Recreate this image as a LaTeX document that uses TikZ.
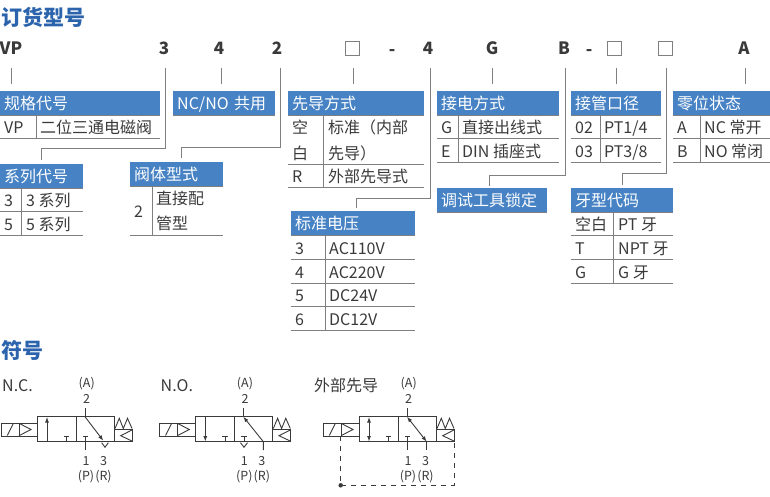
\documentclass[tikz,border=0pt]{standalone}
\usepackage{fontspec}
\setmainfont{Noto Sans CJK SC}
\usetikzlibrary{positioning,arrows.meta}
\definecolor{headblue}{HTML}{4682C4}
\definecolor{titleblue}{HTML}{2B63AC}
\definecolor{inkgray}{HTML}{3A3A3A}
\definecolor{rulegray}{HTML}{7F7F7F}
\tikzstyle{title}=[anchor=base west,inner sep=0,text=titleblue,font=\fontsize{21}{21}\selectfont\bfseries]
\tikzstyle{code}=[inner sep=0,minimum height=40pt,text=inkgray,font=\fontsize{17}{17}\selectfont\bfseries]
\tikzstyle{blank}=[draw=rulegray,line width=0.8pt,inner sep=0,minimum size=14pt]
\tikzstyle{head}=[anchor=north west,fill=headblue,text=white,inner xsep=4pt,inner ysep=0,minimum height=24pt,text height=14pt,text depth=2pt,align=left,font=\fontsize{16}{16}\selectfont,
	append after command={(\tikzlastnode.south west) edge[rule] (\tikzlastnode.south east)}]
\tikzstyle{cell}=[anchor=base west,inner sep=0,text=inkgray,font=\fontsize{16}{16}\selectfont]
\tikzstyle{rule}=[draw=rulegray,line width=1pt]
\tikzstyle{leader}=[draw=rulegray,line width=1pt,shorten >=7pt]
\tikzstyle{sym}=[draw=inkgray,line width=0.9pt,>={Latex[length=5.5pt,width=4pt]}]
\tikzstyle{port}=[inner sep=0,text=inkgray,font=\fontsize{12.5}{12.5}\selectfont]
\tikzstyle{dot}=[circle,fill=inkgray,inner sep=0,minimum size=4.5pt]

\newcommand{\valvebase}[1]{
	\draw[sym] (1.3,423) rectangle (37.3,436);
	\draw[sym] (19,423) -- (19,436);
	\draw[sym] (7.3,435.5) -- (13.3,423.5);
	\draw[sym] (19,423.3) -- (31,429.5) -- (19,435.7);
	\draw[sym] (37.3,416.7) rectangle (114.3,441.7);
	\draw[sym] (76,416.7) -- (76,441.7);
	\draw[sym] (66.7,441.7) -- (66.7,436.7) (64,436.7) -- (69.4,436.7);
	\draw[sym] (85,408) -- (85,416.7);
	\draw[sym] (115,428.5) -- (119.3,418.3) -- (123.3,428.5) -- (127.5,418.3) -- (132,428.5);
	\draw[sym] (114.3,429.3) rectangle (132.3,441.7);
	\draw[sym] (132.3,429.8) -- (120.7,435.7) -- (132.3,441.2);
	\node (#1A) [port] at (86.7,384) {(A)};
	\node (#1two) [port] at (86.7,399.3) {2};
	\node (#1one) [port] at (86,461) {1};
	\node (#1three) [port] at (103.5,461) {3};
	\node (#1P) [port] at (86,476.7) {(P)};
	\node (#1R) [port] at (103.5,476.7) {(R)};
}

\begin{document}
\begin{tikzpicture}[x=1pt,y=-1pt]
	\useasboundingbox (0,0) rectangle (770,496);

	\node (title1) [title] at (1,25) {订货型号};
	\node (title2) [title] at (1,358) {符号};

	\node (cVP) [code] at (11,48) {VP};
	\node (c3) [code] at (164,48) {3};
	\node (c4) [code] at (219,48) {4};
	\node (c2) [code] at (277,48) {2};
	\node (s1) [blank] at (352,48) {};
	\node (d1) [code] at (392,53) {-};
	\node (cV) [code] at (428,48) {4};
	\node (cG) [code] at (492,48) {G};
	\node (cB) [code] at (564,48) {B};
	\node (d2) [code] at (589,53) {-};
	\node (s2) [blank] at (614,48) {};
	\node (s3) [blank] at (665,48) {};
	\node (cA) [code] at (744,48) {A};

	\node (hSpec) [head,text width=152pt] at (0,91) {规格代号};
	\node (hShare) [head,text width=94pt] at (173,91) {NC/NO 共用};
	\node (hPilot) [head,text width=128pt] at (288,91) {先导方式};
	\node (hWire) [head,text width=114pt] at (437,91) {接电方式};
	\node (hPort) [head,text width=82pt] at (571,91) {接管口径};
	\node (hZero) [head,text width=89pt] at (673,91) {零位状态};
	\node (hSeries) [head,text width=75pt] at (0,164) {系列代号};
	\node (hBody) [head,text width=85pt] at (130,162) {阀体型式};
	\node (hLock) [head,text width=102pt] at (437,188) {调试工具锁定};
	\node (hThread) [head,text width=94pt] at (571,188) {牙型代码};
	\node (hVolt) [head,text width=116pt] at (291,211) {标准电压};

	\draw[leader] (cVP.south) -- (cVP.south |- hSpec.north);
	\draw[leader] ([xshift=2pt]c4.south) -- ([xshift=2pt]c4.south |- hShare.north);
	\draw[leader] ([shift={(1pt,-13pt)}]s1.south) -- ([xshift=1pt]s1.south |- hPilot.north);
	\draw[leader] (cG.south) -- (cG.south |- hWire.north);
	\draw[leader] ([shift={(2pt,-13pt)}]s2.south) -- ([xshift=2pt]s2.south |- hPort.north);
	\draw[leader] ([xshift=1pt]cA.south) -- ([xshift=1pt]cA.south |- hZero.north);
	\draw[leader,shorten >=4pt] ([xshift=1pt]c3.south) -- ++(0,80) -| (hSeries.north);
	\draw[leader,shorten >=4pt] ([xshift=3pt]c2.south) -- ++(0,79) -| ([xshift=4.5pt]hBody.north);
	\draw[leader,shorten >=3pt] ([xshift=2pt]cV.south) -- ++(0,130) -| ([xshift=3pt]hVolt.north);
	\draw[leader,shorten >=2pt] ([xshift=1pt]cB.south) -- ++(0,107) -| ([xshift=-3pt]hLock.north);
	\draw[leader,shorten >=3pt] ([shift={(1pt,-13pt)}]s3.south) -- ++(0,105) -| (hThread.north);

	\draw[rule] (0,138) -- (160,138);
	\draw[rule] (36,115) -- (36,138);
	\node (a1) [cell] at (4,133) {VP};
	\node (a2) [cell] at (40,133) {二位三通电磁阀};

	\draw[rule] (0,211) -- (83,211) (0,235) -- (83,235);
	\draw[rule] (21.5,188) -- (21.5,235);
	\node (b1) [cell] at (4,206) {3};
	\node (b2) [cell] at (26,206) {3 系列};
	\node (b3) [cell] at (4,230) {5};
	\node (b4) [cell] at (26,230) {5 系列};

	\draw[rule] (130,235) -- (223,235);
	\draw[rule] (152,186) -- (152,235);
	\node (e1) [cell] at (134,217) {2};
	\node (e2) [cell] at (156,204.5) {直接配};
	\node (e3) [cell] at (156,229) {管型};

	\draw[rule] (288,164) -- (424,164) (288,187) -- (424,187);
	\draw[rule] (323,115) -- (323,187);
	\node (f1) [cell] at (292,133) {空};
	\node (f2) [cell] at (292,159) {白};
	\node (f3) [cell] at (328,133) {标准（内部};
	\node (f4) [cell] at (328,159) {先导）};
	\node (f5) [cell] at (292,182) {R};
	\node (f6) [cell] at (328,182) {外部先导式};

	\draw[rule] (291,259) -- (415,259) (291,283) -- (415,283) (291,306) -- (415,306) (291,330) -- (415,330);
	\draw[rule] (325,235) -- (325,330);
	\node (g1) [cell] at (295,254) {3};
	\node (g2) [cell] at (329,254) {AC110V};
	\node (g3) [cell] at (295,278) {4};
	\node (g4) [cell] at (329,278) {AC220V};
	\node (g5) [cell] at (295,301) {5};
	\node (g6) [cell] at (329,301) {DC24V};
	\node (g7) [cell] at (295,325) {6};
	\node (g8) [cell] at (329,325) {DC12V};

	\draw[rule] (437,138) -- (559,138) (437,162) -- (559,162);
	\draw[rule] (458,115) -- (458,162);
	\node (w1) [cell] at (441,133) {G};
	\node (w2) [cell] at (462,133) {直接出线式};
	\node (w3) [cell] at (441,157) {E};
	\node (w4) [cell] at (462,157) {DIN 插座式};

	\draw[rule] (571,138) -- (661,138) (571,162) -- (661,162);
	\draw[rule] (600,115) -- (600,162);
	\node (p1) [cell] at (575,133) {02};
	\node (p2) [cell] at (604,133) {PT1/4};
	\node (p3) [cell] at (575,157) {03};
	\node (p4) [cell] at (604,157) {PT3/8};

	\draw[rule] (673,138) -- (770,138) (673,162) -- (770,162);
	\draw[rule] (700,115) -- (700,162);
	\node (z1) [cell] at (677,133) {A};
	\node (z2) [cell] at (704,133) {NC 常开};
	\node (z3) [cell] at (677,157) {B};
	\node (z4) [cell] at (704,157) {NO 常闭};

	\draw[rule] (571,235) -- (673,235) (571,259) -- (673,259) (571,283) -- (673,283);
	\draw[rule] (613,212) -- (613,283);
	\node (t1) [cell] at (575,230) {空白};
	\node (t2) [cell] at (618,230) {PT 牙};
	\node (t3) [cell] at (575,254) {T};
	\node (t4) [cell] at (618,254) {NPT 牙};
	\node (t5) [cell] at (575,278) {G};
	\node (t6) [cell] at (618,278) {G 牙};

	\node (nc) [cell] at (2,391) {N.C.};
	\node (no) [cell] at (160.5,391) {N.O.};
	\node (ext) [cell] at (314,391) {外部先导};

	\begin{scope}
		\valvebase{x}
		\draw[sym,->] (47,441.7) -- (47,417);
		\draw[sym] (85.7,436.7) -- (85.7,450) (83,436.7) -- (88.4,436.7);
		\draw[sym,->] (85,416.7) -- (103.3,440.7);
		\draw[sym] (101.7,442.7) -- (105,447.3) -- (108.3,442.7);
	\end{scope}

	\begin{scope}[shift={(158.3,0)}]
		\valvebase{y}
		\draw[sym,->] (47,416.7) -- (47,441.5);
		\draw[sym] (85.7,436.7) -- (85.7,441.7) (83,436.7) -- (88.4,436.7);
		\draw[sym] (82.2,442.7) -- (85.7,447.3) -- (89.2,442.7);
		\draw[sym,<-] (85,416.7) -- (105,441.7) -- (105,450);
	\end{scope}

	\begin{scope}[shift={(322,0)}]
		\valvebase{z}
		\draw[sym,<->] (47,417) -- (47,441.5);
		\draw[sym] (85.7,436.7) -- (85.7,450) (83,436.7) -- (88.4,436.7);
		\draw[sym,<->] (85,416.7) -- (104.7,441.7);
		\draw[sym] (104.7,441.7) -- (104.7,450);
		\node (zdot) [dot] at (18.7,485.3) {};
		\draw[sym,dash pattern=on 5pt off 5pt] (18.7,436) -- (zdot.center) -- (132.3,485.3) -- (132.3,441.7);
	\end{scope}
\end{tikzpicture}
\end{document}
